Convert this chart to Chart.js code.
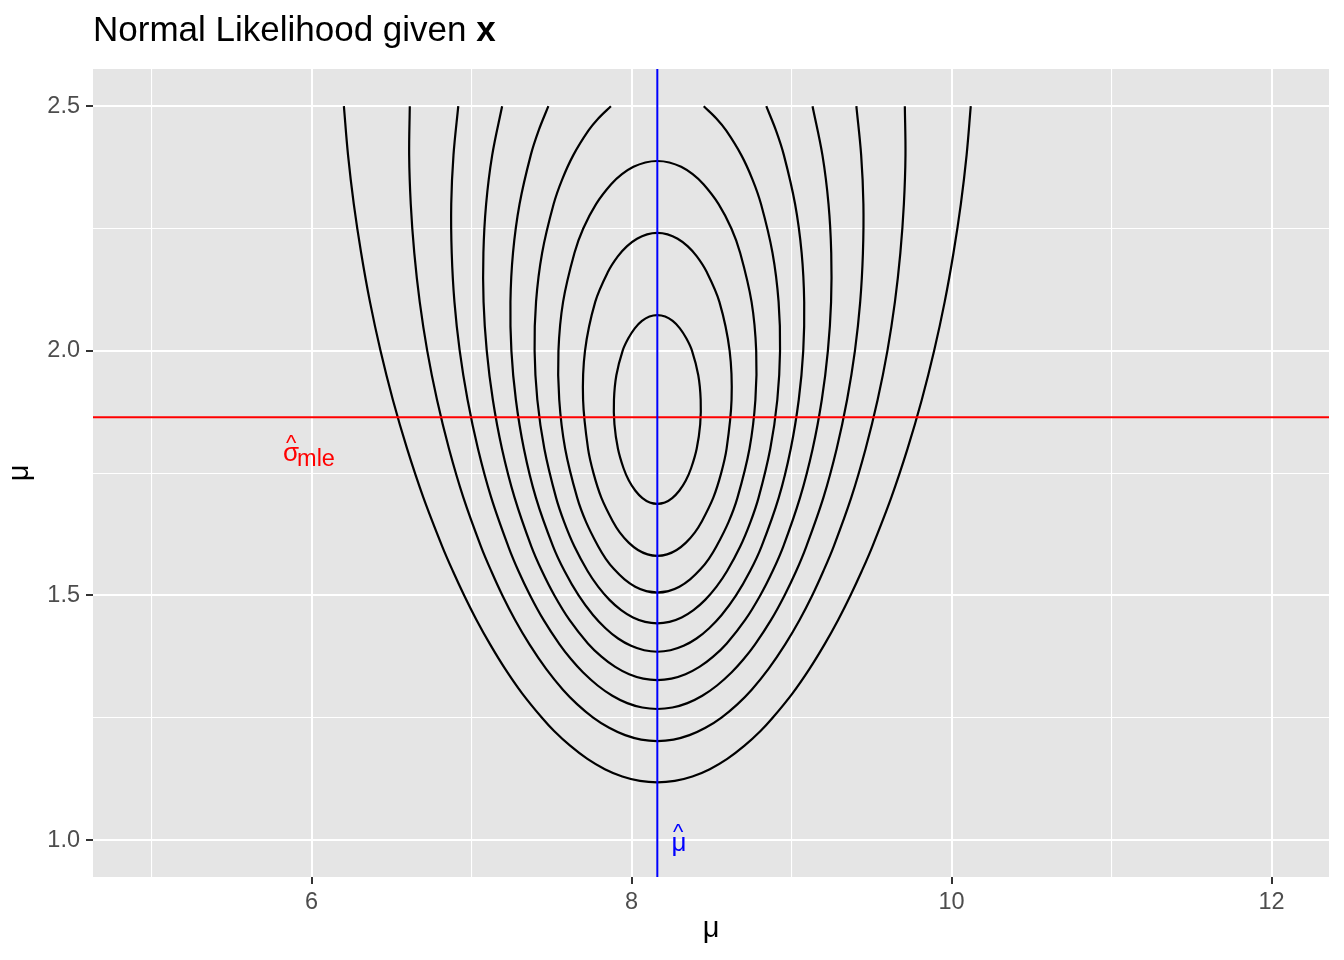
<!DOCTYPE html>
<html>
<head>
<meta charset="utf-8">
<script src="https://cdn.jsdelivr.net/npm/chart.js@4.4.1/dist/chart.umd.min.js"></script>
<style>
  html, body { margin: 0; padding: 0; background: #ffffff; }
  #wrap { width: 1344px; height: 960px; }
</style>
</head>
<body>
<div id="wrap"><canvas id="likChart" width="1344" height="960"></canvas></div>
<script>
// MLE estimates (blue and red reference lines)
const muHat = 8.161;
const sigmaMle = 1.864;

// axis ranges
const muMin = 4.634, muMax = 12.359;
const sigmaMin = 0.9246, sigmaMax = 2.576;

// contour bottoms / tops at mu = muHat (null = contour leaves the grid at sigma 2.5)
const contourBottoms = [1.687, 1.581, 1.506, 1.443, 1.385, 1.327, 1.268, 1.2025, 1.118];
const contourTops = [2.073, 2.241, 2.388, null, null, null, null, null, null];

// contour 1 (inner)
const c1Sigma = [1.690, 1.699, 1.714, 1.735, 1.76, 1.8, 1.85, 1.9, 1.95, 2.0, 2.025, 2.046, 2.061, 2.070];
const c1Left = [8.114, 8.068, 8.024, 7.983, 7.950, 7.915, 7.893, 7.890, 7.905, 7.944, 7.979, 8.020, 8.065, 8.112];
const c1Right = [8.208, 8.254, 8.298, 8.339, 8.372, 8.407, 8.429, 8.432, 8.417, 8.378, 8.343, 8.302, 8.257, 8.210];

// contour 2
const c2Sigma = [1.584, 1.593, 1.608, 1.629, 1.65, 1.7, 1.75, 1.8, 1.9, 2.0, 2.1, 2.161, 2.193, 2.214, 2.229, 2.238];
const c2Left = [8.100, 8.040, 7.982, 7.926, 7.885, 7.811, 7.762, 7.728, 7.697, 7.709, 7.773, 7.852, 7.914, 7.972, 8.034, 8.097];
const c2Right = [8.222, 8.282, 8.340, 8.396, 8.437, 8.511, 8.560, 8.594, 8.625, 8.613, 8.549, 8.470, 8.408, 8.350, 8.288, 8.225];

// contour 3
const c3Sigma = [1.509, 1.518, 1.533, 1.554, 1.575, 1.6, 1.65, 1.7, 1.8, 1.9, 2.0, 2.1, 2.2, 2.25, 2.3, 2.34, 2.361, 2.376, 2.385];
const c3Left = [8.092, 8.023, 7.956, 7.890, 7.839, 7.792, 7.716, 7.660, 7.585, 7.548, 7.543, 7.572, 7.643, 7.698, 7.778, 7.871, 7.940, 8.012, 8.086];
const c3Right = [8.230, 8.299, 8.366, 8.432, 8.483, 8.530, 8.606, 8.662, 8.737, 8.774, 8.779, 8.750, 8.679, 8.624, 8.544, 8.451, 8.382, 8.310, 8.236];

// contour 4
const c4Sigma = [1.446, 1.455, 1.470, 1.491, 1.518, 1.55, 1.6, 1.65, 1.7, 1.8, 1.9, 2.0, 2.1, 2.2, 2.3, 2.35, 2.4, 2.45, 2.475, 2.5];
const c4Left = [8.085, 8.009, 7.935, 7.862, 7.791, 7.725, 7.643, 7.579, 7.528, 7.455, 7.411, 7.394, 7.403, 7.441, 7.513, 7.566, 7.636, 7.730, 7.792, 7.871];
const c4Right = [8.237, 8.313, 8.387, 8.460, 8.531, 8.597, 8.679, 8.743, 8.794, 8.867, 8.911, 8.928, 8.919, 8.881, 8.809, 8.756, 8.686, 8.592, 8.530, 8.451];

// contour 5
const c5Sigma = [1.388, 1.397, 1.412, 1.433, 1.46, 1.5, 1.55, 1.6, 1.7, 1.8, 1.9, 2.0, 2.1, 2.2, 2.3, 2.4, 2.45, 2.5];
const c5Left = [8.079, 7.997, 7.916, 7.837, 7.759, 7.669, 7.581, 7.510, 7.402, 7.327, 7.277, 7.249, 7.243, 7.259, 7.300, 7.370, 7.419, 7.480];
const c5Right = [8.243, 8.325, 8.406, 8.485, 8.563, 8.653, 8.741, 8.812, 8.920, 8.995, 9.045, 9.073, 9.079, 9.063, 9.022, 8.952, 8.903, 8.842];

// contour 6
const c6Sigma = [1.330, 1.339, 1.354, 1.375, 1.402, 1.45, 1.5, 1.55, 1.6, 1.7, 1.8, 1.9, 2.0, 2.1, 2.2, 2.3, 2.4, 2.5];
const c6Left = [8.073, 7.985, 7.898, 7.812, 7.727, 7.612, 7.518, 7.440, 7.374, 7.269, 7.190, 7.133, 7.095, 7.075, 7.074, 7.091, 7.129, 7.191];
const c6Right = [8.249, 8.337, 8.424, 8.510, 8.595, 8.710, 8.804, 8.882, 8.948, 9.053, 9.132, 9.189, 9.227, 9.247, 9.248, 9.231, 9.193, 9.131];

// contour 7
const c7Sigma = [1.271, 1.280, 1.295, 1.316, 1.343, 1.37, 1.4, 1.45, 1.5, 1.55, 1.6, 1.7, 1.8, 1.9, 2.0, 2.1, 2.2, 2.3, 2.4, 2.5];
const c7Left = [8.067, 7.973, 7.880, 7.788, 7.696, 7.621, 7.550, 7.450, 7.366, 7.293, 7.230, 7.123, 7.040, 6.975, 6.926, 6.893, 6.876, 6.873, 6.887, 6.917];
const c7Right = [8.255, 8.349, 8.442, 8.534, 8.626, 8.701, 8.772, 8.872, 8.956, 9.029, 9.092, 9.199, 9.282, 9.347, 9.396, 9.429, 9.446, 9.449, 9.435, 9.405];

// contour 8
const c8Sigma = [1.2055, 1.2145, 1.2295, 1.2505, 1.2775, 1.3075, 1.35, 1.4, 1.45, 1.5, 1.55, 1.6, 1.7, 1.8, 1.9, 2.0, 2.1, 2.2, 2.3, 2.4, 2.5];
const c8Left = [8.060, 7.960, 7.860, 7.760, 7.661, 7.571, 7.466, 7.362, 7.272, 7.193, 7.123, 7.059, 6.949, 6.859, 6.784, 6.723, 6.676, 6.642, 6.620, 6.610, 6.614];
const c8Right = [8.262, 8.362, 8.462, 8.562, 8.661, 8.751, 8.856, 8.960, 9.050, 9.129, 9.199, 9.263, 9.373, 9.463, 9.538, 9.599, 9.646, 9.680, 9.702, 9.712, 9.708];

// contour 9 (outer)
const c9Sigma = [1.121, 1.130, 1.145, 1.166, 1.193, 1.223, 1.25, 1.3, 1.35, 1.4, 1.45, 1.5, 1.55, 1.6, 1.7, 1.8, 1.9, 2.0, 2.1, 2.2, 2.3, 2.4, 2.5];
const c9Left = [8.052, 7.942, 7.833, 7.724, 7.616, 7.516, 7.440, 7.316, 7.210, 7.116, 7.031, 6.954, 6.883, 6.817, 6.699, 6.597, 6.508, 6.431, 6.365, 6.310, 6.264, 6.228, 6.202];
const c9Right = [8.270, 8.380, 8.489, 8.598, 8.706, 8.806, 8.882, 9.006, 9.112, 9.206, 9.291, 9.368, 9.439, 9.505, 9.623, 9.725, 9.814, 9.891, 9.957, 10.012, 10.058, 10.094, 10.120];

const contourSigmas = [c1Sigma, c2Sigma, c3Sigma, c4Sigma, c5Sigma, c6Sigma, c7Sigma, c8Sigma, c9Sigma];
const contourLefts = [c1Left, c2Left, c3Left, c4Left, c5Left, c6Left, c7Left, c8Left, c9Left];
const contourRights = [c1Right, c2Right, c3Right, c4Right, c5Right, c6Right, c7Right, c8Right, c9Right];

// label anchors (data coords)
const sigmaLabelAt = { mu: 6.0, sigma: 1.79 };
const muLabelAt = { mu: 8.297, sigma: 0.99 };

const FONT = '"Liberation Sans", Arial, Helvetica, sans-serif';
const PANEL_BG = '#E5E5E5';

// Собираем путь контура: открытые идут сверху слева вниз и вверх вправо,
// замкнутые обходим по кругу с небольшим перекрытием у низа
function contourPath(sigmas, left, right, bottom, top) {
    const pts = [];
    if (top === null) {
        for (let i = sigmas.length - 1; i >= 0; i--) pts.push({ x: left[i], y: sigmas[i] });
        pts.push({ x: muHat, y: bottom });
        for (let i = 0; i < sigmas.length; i++) pts.push({ x: right[i], y: sigmas[i] });
    } else {
        pts.push({ x: left[0], y: sigmas[0] });
        pts.push({ x: muHat, y: bottom });
        for (let i = 0; i < sigmas.length; i++) pts.push({ x: right[i], y: sigmas[i] });
        pts.push({ x: muHat, y: top });
        for (let i = sigmas.length - 1; i >= 0; i--) pts.push({ x: left[i], y: sigmas[i] });
        pts.push({ x: muHat, y: bottom });
        pts.push({ x: right[0], y: sigmas[0] });
    }
    return pts;
}

function buildDatasets() {
    const datasets = [
        {
            label: 'muHat',
            data: [{ x: muHat, y: sigmaMin }, { x: muHat, y: sigmaMax }],
            borderColor: '#0000FF',
            borderWidth: 2,
            order: 0
        },
        {
            label: 'sigmaMle',
            data: [{ x: muMin, y: sigmaMle }, { x: muMax, y: sigmaMle }],
            borderColor: '#FF0000',
            borderWidth: 2,
            order: 1
        }
    ];
    for (let k = 0; k < contourSigmas.length; k++) {
        datasets.push({
            label: 'contour ' + (k + 1),
            data: contourPath(contourSigmas[k], contourLefts[k], contourRights[k], contourBottoms[k], contourTops[k]),
            borderColor: '#000000',
            borderWidth: 2.2,
            tension: 0.35,
            order: 2
        });
    }
    return datasets;
}

const decorPlugin = {
    id: 'decor',
    beforeDraw(chart) {
        const { ctx, chartArea } = chart;
        ctx.save();
        ctx.fillStyle = '#FFFFFF';
        ctx.fillRect(0, 0, chart.width, chart.height);
        ctx.fillStyle = PANEL_BG;
        ctx.fillRect(chartArea.left, chartArea.top, chartArea.right - chartArea.left, chartArea.bottom - chartArea.top);
        ctx.restore();
    },
    afterDraw(chart) {
        const { ctx, chartArea } = chart;
        const xs = chart.scales.x, ys = chart.scales.y;
        ctx.save();

        // заголовок, "x" жирным
        ctx.fillStyle = '#000000';
        ctx.textBaseline = 'alphabetic';
        ctx.textAlign = 'left';
        ctx.font = '35px ' + FONT;
        const head = 'Normal Likelihood given ';
        ctx.fillText(head, chartArea.left, 41);
        const w = ctx.measureText(head).width;
        ctx.font = 'bold 35px ' + FONT;
        ctx.fillText('x', chartArea.left + w, 41);

        // подпись sigma-hat_mle
        let ax = xs.getPixelForValue(sigmaLabelAt.mu);
        let ay = ys.getPixelForValue(sigmaLabelAt.sigma);
        ctx.fillStyle = '#FF0000';
        ctx.textAlign = 'center';
        ctx.font = '26px ' + FONT;
        ctx.fillText('σ', ax - 20.5, ay + 7);
        ctx.font = '22px ' + FONT;
        ctx.fillText('^', ax - 20.5, ay - 4);
        ctx.textAlign = 'left';
        ctx.font = '23.5px ' + FONT;
        ctx.fillText('mle', ax - 14.5, ay + 12.5);

        // подпись mu-hat
        ax = xs.getPixelForValue(muLabelAt.mu);
        ay = ys.getPixelForValue(muLabelAt.sigma);
        ctx.fillStyle = '#0000FF';
        ctx.textAlign = 'center';
        ctx.font = '26px ' + FONT;
        ctx.fillText('μ', ax, ay + 6);
        ctx.font = '22px ' + FONT;
        ctx.fillText('^', ax - 1, ay - 6);

        ctx.restore();
    }
};

function isMajor(v, step) {
    return Math.abs(v / step - Math.round(v / step)) < 1e-6;
}

function initLikelihoodChart() {
    const ctx = document.getElementById('likChart').getContext('2d');
    return new Chart(ctx, {
        type: 'scatter',
        data: { datasets: buildDatasets() },
        options: {
            responsive: false,
            devicePixelRatio: 1,
            animation: false,
            showLine: true,
            layout: { padding: { top: 69, right: 15, left: 0, bottom: 0 } },
            elements: { point: { radius: 0, hoverRadius: 0 } },
            plugins: {
                legend: { display: false },
                tooltip: { enabled: false },
                title: { display: false }
            },
            scales: {
                x: {
                    type: 'linear',
                    min: muMin,
                    max: muMax,
                    border: { display: false },
                    grid: {
                        color: '#FFFFFF',
                        lineWidth: c => isMajor(c.tick.value, 2) ? 2 : 1.1,
                        tickLength: 7,
                        tickWidth: 2,
                        tickColor: c => isMajor(c.tick.value, 2) ? '#333333' : 'rgba(0,0,0,0)'
                    },
                    ticks: {
                        stepSize: 1,
                        includeBounds: false,
                        autoSkip: false,
                        maxRotation: 0,
                        padding: 4,
                        color: '#4D4D4D',
                        font: { family: FONT, size: 23.5 },
                        callback: v => isMajor(v, 2) ? String(v) : ''
                    },
                    title: {
                        display: true,
                        text: 'μ',
                        color: '#000000',
                        font: { family: FONT, size: 29 },
                        padding: { top: 0, bottom: 14 }
                    },
                    afterFit: s => { s.height = 83; }
                },
                y: {
                    type: 'linear',
                    min: sigmaMin,
                    max: sigmaMax,
                    border: { display: false },
                    grid: {
                        color: '#FFFFFF',
                        lineWidth: c => isMajor(c.tick.value, 0.5) ? 2 : 1.1,
                        tickLength: 7,
                        tickWidth: 2,
                        tickColor: c => isMajor(c.tick.value, 0.5) ? '#333333' : 'rgba(0,0,0,0)'
                    },
                    ticks: {
                        stepSize: 0.25,
                        includeBounds: false,
                        autoSkip: false,
                        padding: 6,
                        color: '#4D4D4D',
                        font: { family: FONT, size: 23.5 },
                        callback: v => isMajor(v, 0.5) ? v.toFixed(1) : ''
                    },
                    title: {
                        display: true,
                        text: 'μ',
                        color: '#000000',
                        font: { family: FONT, size: 29 },
                        padding: { top: 3, bottom: 0 }
                    },
                    afterFit: s => { s.width = 93; }
                }
            }
        },
        plugins: [decorPlugin]
    });
}

document.addEventListener('DOMContentLoaded', () => {
    initLikelihoodChart();
});
</script>
</body>
</html>
